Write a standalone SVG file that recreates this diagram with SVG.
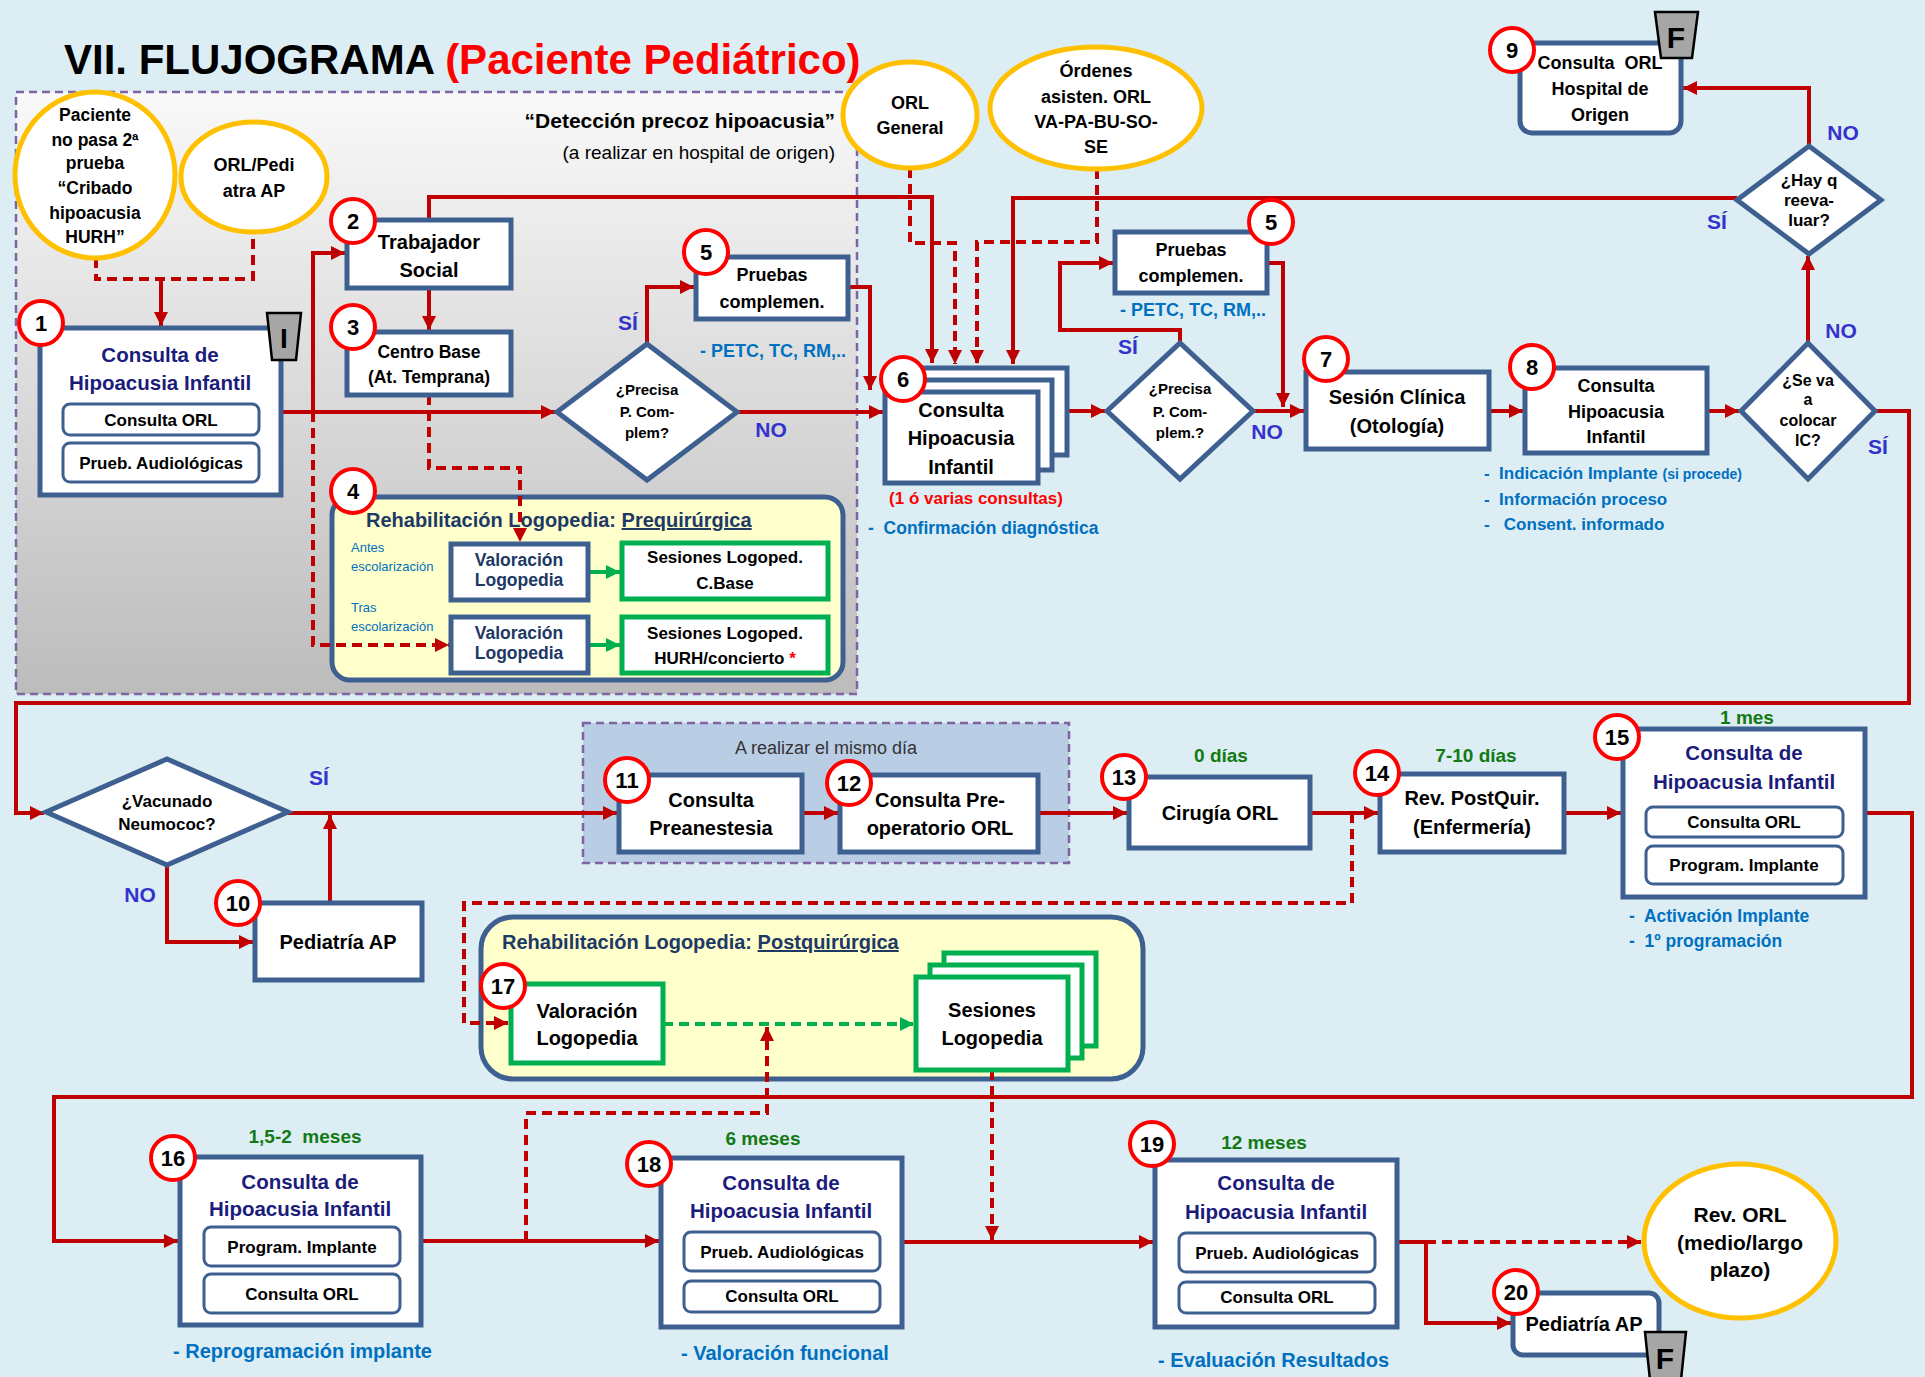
<svg xmlns="http://www.w3.org/2000/svg" width="1925" height="1377" viewBox="0 0 1925 1377">
<defs>
<linearGradient id="gDet" x1="0" y1="0" x2="0" y2="1"><stop offset="0" stop-color="#f9f9f9"/><stop offset="1" stop-color="#bcbcbc"/></linearGradient>
<marker id="ar" viewBox="0 0 14 14" refX="14" refY="7" markerWidth="14" markerHeight="14" markerUnits="userSpaceOnUse" orient="auto"><path d="M0,0 L14,7 L0,14 z" fill="#c00000"/></marker>
<marker id="ag" viewBox="0 0 14 14" refX="14" refY="7" markerWidth="14" markerHeight="14" markerUnits="userSpaceOnUse" orient="auto"><path d="M0,0 L14,7 L0,14 z" fill="#00b050"/></marker>
<style>
text { font-family: 'Liberation Sans', Arial, sans-serif; }
.b { font-weight: bold; text-anchor: middle; }
.l { font-weight: bold; text-anchor: start; }
.node { fill:#fff; stroke:#3e6090; stroke-width:5; }
.inner { fill:#fff; stroke:#3e6090; stroke-width:3; }
.gbox { fill:#fff; stroke:#00b050; stroke-width:5; }
.ell { fill:#fff; stroke:#ffc000; stroke-width:5; }
.bd { fill:#fff; stroke:#ff0000; stroke-width:4; }
.bn { font-weight:bold; font-size:22px; text-anchor:middle; fill:#000; }
.c { fill:none; stroke:#c00000; stroke-width:4; marker-end:url(#ar); }
.c0 { fill:none; stroke:#c00000; stroke-width:4; }
.cg { fill:none; stroke:#00b050; stroke-width:4; marker-end:url(#ag); }
.d { stroke-dasharray:10 6; }
.nv { fill:#1c1c7a; }
.dn { fill:#203864; }
.bl { fill:#0070c0; }
.yn { fill:#3333cc; font-size:21px; font-weight:bold; text-anchor:middle; }
.gr { fill:#137a13; font-size:19px; font-weight:bold; text-anchor:middle; }
.tab { fill:#a6a6a6; stroke:#000; stroke-width:2.5; }
.reg { fill:none; stroke:#8064a2; stroke-width:2.5; stroke-dasharray:8 5; }
</style>
</defs>

<rect x="0" y="0" width="1925" height="1377" fill="#dcedf4"/>

<text x="64" y="74" font-size="42" font-weight="bold" fill="#000">VII. FLUJOGRAMA <tspan fill="#ff0000">(Paciente Pediátrico)</tspan></text>

<!-- regions -->
<g id="region-deteccion">
<rect x="16" y="92" width="841" height="602" fill="url(#gDet)"/>
<rect class="reg" x="16" y="92" width="841" height="602"/>
<text x="835" y="128" font-size="21" font-weight="bold" text-anchor="end">“Detección precoz hipoacusia”</text>
<text x="835" y="159" font-size="19" text-anchor="end">(a realizar en hospital de origen)</text>
</g>
<g id="region-mismo-dia">
<rect x="583" y="723" width="486" height="140" fill="#b9cde5"/>
<rect class="reg" x="583" y="723" width="486" height="140"/>
<text x="826" y="754" font-size="18" text-anchor="middle" fill="#333">A realizar el mismo día</text>
</g>
<g id="n4">
<rect x="332" y="497" width="511" height="183" rx="18" fill="#ffffcc" stroke="#3e6090" stroke-width="5"/>
<text class="l dn" x="366" y="527" font-size="20">Rehabilitación Logopedia: <tspan text-decoration="underline">Prequirúrgica</tspan></text>
<text x="351" y="552" font-size="13" class="bl">Antes</text>
<text x="351" y="571" font-size="13" class="bl">escolarización</text>
<text x="351" y="612" font-size="13" class="bl">Tras</text>
<text x="351" y="631" font-size="13" class="bl">escolarización</text>
</g>
<g id="n17-container">
<rect x="481" y="917" width="662" height="162" rx="32" fill="#ffffcc" stroke="#3e6090" stroke-width="5"/>
<text class="l dn" x="502" y="949" font-size="20">Rehabilitación Logopedia: <tspan text-decoration="underline">Postquirúrgica</tspan></text>
</g>

<!-- connectors -->
<g id="connectors">
<path class="c0 d" d="M96,258 V279 H253 V232"/>
<path class="c" d="M161,279 V326"/>
<path class="c" d="M281,412 H555"/>
<path class="c" d="M313,412 V253 H345"/>
<path class="c d" d="M313,412 V645 H449"/>
<path class="c" d="M429,288 V330"/>
<path class="c" d="M429,220 V197 H932 V363"/>
<path class="c d" d="M429,395 V468 H520 V542"/>
<path class="c" d="M647,344 V287 H694"/>
<path class="c" d="M848,287 H870 V390"/>
<path class="c" d="M737,412 H883"/>
<path class="c d" d="M910,168 V243 H955 V364"/>
<path class="c d" d="M1097,169 V242 H977 V364"/>
<path class="c" d="M1737,198 H1013 V364"/>
<path class="c" d="M1067,411 H1105"/>
<path class="c" d="M1180,343 V330 H1060 V263 H1113"/>
<path class="c" d="M1267,263 H1283 V407"/>
<path class="c" d="M1253,411 H1304"/>
<path class="c" d="M1489,411 H1523"/>
<path class="c" d="M1707,411 H1739"/>
<path class="c" d="M1808,343 V256"/>
<path class="c" d="M1809,146 V88 H1683"/>
<path class="c" d="M1875,411 H1909 V703 H16 V813 H44"/>
<path class="c" d="M288,813 H617"/>
<path class="c" d="M167,865 V942 H253"/>
<path class="c" d="M330,903 V815"/>
<path class="c" d="M802,813 H838"/>
<path class="c" d="M1038,813 H1127"/>
<path class="c" d="M1310,813 H1378"/>
<path class="c d" d="M1352,813 V903 H464 V1023 H508"/>
<path class="c" d="M1564,813 H1621"/>
<path class="c" d="M1865,813 H1912 V1097 H54 V1241 H178"/>
<path class="c" d="M421,1241 H659"/>
<path class="c d" d="M526,1241 V1113 H767 V1027"/>
<path class="cg d" d="M663,1024 H914"/>
<path class="c d" d="M992,1070 V1240"/>
<path class="c" d="M902,1242 H1153"/>
<path class="c d" d="M1426,1242 H1641"/>
<path class="c" d="M1397,1242 H1426 V1323 H1511"/>
<path class="cg" d="M588,572 H620"/>
<path class="cg" d="M588,645 H620"/>
</g>

<!-- start ellipses -->
<g id="e-cribado">
<ellipse class="ell" cx="95" cy="175" rx="80" ry="83"/>
<text class="b" font-size="17.5" x="95" y="121">Paciente</text>
<text class="b" font-size="17.5" x="95" y="146">no pasa 2ª</text>
<text class="b" font-size="17.5" x="95" y="169">prueba</text>
<text class="b" font-size="17.5" x="95" y="194">“Cribado</text>
<text class="b" font-size="17.5" x="95" y="219">hipoacusia</text>
<text class="b" font-size="17.5" x="95" y="243">HURH”</text>
</g>
<g id="e-orlpedi">
<ellipse class="ell" cx="254" cy="177" rx="73" ry="55"/>
<text class="b" font-size="18" x="254" y="171">ORL/Pedi</text>
<text class="b" font-size="18" x="254" y="197">atra AP</text>
</g>
<g id="e-orlgeneral">
<ellipse class="ell" cx="910" cy="115" rx="67" ry="53"/>
<text class="b" font-size="18" x="910" y="109">ORL</text>
<text class="b" font-size="18" x="910" y="134">General</text>
</g>
<g id="e-ordenes">
<ellipse class="ell" cx="1096" cy="108" rx="106" ry="61"/>
<text class="b" font-size="18" x="1096" y="77">Órdenes</text>
<text class="b" font-size="18" x="1096" y="103">asisten. ORL</text>
<text class="b" font-size="18" x="1096" y="128">VA-PA-BU-SO-</text>
<text class="b" font-size="18" x="1096" y="153">SE</text>
</g>
<g id="e-revorl">
<ellipse class="ell" cx="1740" cy="1241" rx="96" ry="77"/>
<text class="b" font-size="21" x="1740" y="1222">Rev. ORL</text>
<text class="b" font-size="21" x="1740" y="1250">(medio/largo</text>
<text class="b" font-size="21" x="1740" y="1277">plazo)</text>
</g>

<!-- nodes -->
<g id="n1">
<rect class="node" x="40" y="328" width="241" height="167"/>
<text class="b nv" font-size="20.5" x="160" y="362">Consulta de</text>
<text class="b nv" font-size="20.5" x="160" y="390">Hipoacusia Infantil</text>
<rect class="inner" x="63" y="404" width="196" height="31" rx="7"/>
<text class="b" font-size="17" x="161" y="426">Consulta ORL</text>
<rect class="inner" x="63" y="443" width="196" height="39" rx="7"/>
<text class="b" font-size="17" x="161" y="469">Prueb. Audiológicas</text>
<polygon class="tab" points="267,313 301,313 296,360 272,360"/>
<text class="b" font-size="28" x="284" y="348">I</text>
<circle class="bd" cx="41" cy="323" r="22"/><text class="bn" x="41" y="331">1</text>
</g>
<g id="n2">
<rect class="node" x="347" y="220" width="164" height="68"/>
<text class="b" font-size="20" x="429" y="249">Trabajador</text>
<text class="b" font-size="20" x="429" y="277">Social</text>
<circle class="bd" cx="353" cy="221" r="22"/><text class="bn" x="353" y="229">2</text>
</g>
<g id="n3">
<rect class="node" x="347" y="332" width="164" height="63"/>
<text class="b" font-size="17.5" x="429" y="358">Centro Base</text>
<text class="b" font-size="17.5" x="429" y="383">(At. Temprana)</text>
<circle class="bd" cx="353" cy="327" r="22"/><text class="bn" x="353" y="335">3</text>
</g>
<g id="n4-items">
<circle class="bd" cx="353" cy="491" r="22"/><text class="bn" x="353" y="499">4</text>
<rect class="node" x="451" y="544" width="137" height="56"/>
<text class="b dn" font-size="17.5" x="519" y="566">Valoración</text>
<text class="b dn" font-size="17.5" x="519" y="586">Logopedia</text>
<rect class="node" x="451" y="617" width="137" height="56"/>
<text class="b dn" font-size="17.5" x="519" y="639">Valoración</text>
<text class="b dn" font-size="17.5" x="519" y="659">Logopedia</text>
<rect class="gbox" x="622" y="543" width="206" height="56"/>
<text class="b" font-size="17" x="725" y="563">Sesiones Logoped.</text>
<text class="b" font-size="17" x="725" y="589">C.Base</text>
<rect class="gbox" x="622" y="617" width="206" height="56"/>
<text class="b" font-size="17" x="725" y="639">Sesiones Logoped.</text>
<text class="b" font-size="17" x="725" y="664">HURH/concierto <tspan fill="#ff0000">*</tspan></text>
</g>
<g id="n5a">
<rect class="node" x="696" y="257" width="152" height="62"/>
<text class="b" font-size="18" x="772" y="281">Pruebas</text>
<text class="b" font-size="18" x="772" y="308">complemen.</text>
<circle class="bd" cx="706" cy="252" r="22"/><text class="bn" x="706" y="260">5</text>
<text class="l bl" font-size="18" x="700" y="357">- PETC, TC, RM,..</text>
</g>
<g id="d1">
<polygon class="node" points="557,412 647,344 737,412 647,480"/>
<text class="b" font-size="15" x="647" y="395">¿Precisa</text>
<text class="b" font-size="15" x="647" y="417">P. Com-</text>
<text class="b" font-size="15" x="647" y="438">plem?</text>
<text class="yn" x="628" y="330">SÍ</text>
<text class="yn" x="771" y="437">NO</text>
</g>
<g id="n6">
<rect class="node" x="915" y="368" width="152" height="87"/>
<rect class="node" x="900" y="380" width="152" height="90"/>
<rect class="node" x="885" y="392" width="153" height="91"/>
<text class="b" font-size="20" x="961" y="417">Consulta</text>
<text class="b" font-size="20" x="961" y="445">Hipoacusia</text>
<text class="b" font-size="20" x="961" y="474">Infantil</text>
<circle class="bd" cx="903" cy="379" r="22"/><text class="bn" x="903" y="387">6</text>
<text class="b" font-size="17" x="976" y="504" fill="#ff0000">(1 ó varias consultas)</text>
<text class="l bl" font-size="17.5" x="868" y="534">-&#160; Confirmación diagnóstica</text>
</g>
<g id="d2">
<polygon class="node" points="1107,411 1180,343 1253,411 1180,479"/>
<text class="b" font-size="15" x="1180" y="394">¿Precisa</text>
<text class="b" font-size="15" x="1180" y="417">P. Com-</text>
<text class="b" font-size="15" x="1180" y="438">plem.?</text>
<text class="yn" x="1128" y="354">SÍ</text>
<text class="yn" x="1267" y="439">NO</text>
</g>
<g id="n5b">
<rect class="node" x="1115" y="232" width="152" height="61"/>
<text class="b" font-size="18" x="1191" y="256">Pruebas</text>
<text class="b" font-size="18" x="1191" y="282">complemen.</text>
<circle class="bd" cx="1271" cy="222" r="22"/><text class="bn" x="1271" y="230">5</text>
<text class="l bl" font-size="18" x="1120" y="316">- PETC, TC, RM,..</text>
</g>
<g id="n7">
<rect class="node" x="1306" y="372" width="183" height="77"/>
<text class="b" font-size="20" x="1397" y="404">Sesión Clínica</text>
<text class="b" font-size="20" x="1397" y="433">(Otología)</text>
<circle class="bd" cx="1326" cy="359" r="22"/><text class="bn" x="1326" y="367">7</text>
</g>
<g id="n8">
<rect class="node" x="1525" y="368" width="182" height="85"/>
<text class="b" font-size="18" x="1616" y="392">Consulta</text>
<text class="b" font-size="18" x="1616" y="418">Hipoacusia</text>
<text class="b" font-size="18" x="1616" y="443">Infantil</text>
<circle class="bd" cx="1532" cy="367" r="22"/><text class="bn" x="1532" y="375">8</text>
<text class="l bl" font-size="17" x="1484" y="479">-&#160; Indicación Implante <tspan font-size="14">(si procede)</tspan></text>
<text class="l bl" font-size="17" x="1484" y="505">-&#160; Información proceso</text>
<text class="l bl" font-size="17" x="1484" y="530">-&#160;&#160; Consent. informado</text>
</g>
<g id="d3">
<polygon class="node" points="1741,411 1808,343 1875,411 1808,479"/>
<text class="b" font-size="16" x="1808" y="386">¿Se va</text>
<text class="b" font-size="16" x="1808" y="405">a</text>
<text class="b" font-size="16" x="1808" y="426">colocar</text>
<text class="b" font-size="16" x="1808" y="446">IC?</text>
<text class="yn" x="1841" y="338">NO</text>
<text class="yn" x="1878" y="454">SÍ</text>
</g>
<g id="d4">
<polygon class="node" points="1737,200 1809,146 1881,200 1809,254"/>
<text class="b" font-size="17" x="1809" y="186">¿Hay q</text>
<text class="b" font-size="17" x="1809" y="206">reeva-</text>
<text class="b" font-size="17" x="1809" y="226">luar?</text>
<text class="yn" x="1843" y="140">NO</text>
<text class="yn" x="1717" y="229">SÍ</text>
</g>
<g id="n9">
<rect class="node" x="1520" y="43" width="161" height="90" rx="12"/>
<text class="b" font-size="18" x="1600" y="69">Consulta&#160; ORL</text>
<text class="b" font-size="18" x="1600" y="95">Hospital de</text>
<text class="b" font-size="18" x="1600" y="121">Origen</text>
<polygon class="tab" points="1655,12 1698,12 1692,58 1661,58"/>
<text class="b" font-size="30" x="1676" y="48">F</text>
<circle class="bd" cx="1512" cy="50" r="22"/><text class="bn" x="1512" y="58">9</text>
</g>
<g id="d-vacunado">
<polygon class="node" points="46,812 167,759 288,812 167,865"/>
<text class="b" font-size="17" x="167" y="807">¿Vacunado</text>
<text class="b" font-size="17" x="167" y="830">Neumococ?</text>
<text class="yn" x="319" y="785">SÍ</text>
<text class="yn" x="140" y="902">NO</text>
</g>
<g id="n10">
<rect class="node" x="255" y="903" width="167" height="77"/>
<text class="b" font-size="20" x="338" y="949">Pediatría AP</text>
<circle class="bd" cx="238" cy="903" r="22"/><text class="bn" x="238" y="911">10</text>
</g>
<g id="n11">
<rect class="node" x="619" y="775" width="183" height="77"/>
<text class="b" font-size="20" x="711" y="807">Consulta</text>
<text class="b" font-size="20" x="711" y="835">Preanestesia</text>
<circle class="bd" cx="627" cy="780" r="22"/><text class="bn" x="627" y="788">11</text>
</g>
<g id="n12">
<rect class="node" x="840" y="775" width="198" height="77"/>
<text class="b" font-size="20" x="940" y="807">Consulta Pre-</text>
<text class="b" font-size="20" x="940" y="835">operatorio ORL</text>
<circle class="bd" cx="849" cy="783" r="22"/><text class="bn" x="849" y="791">12</text>
</g>
<g id="n13">
<rect class="node" x="1129" y="777" width="181" height="71"/>
<text class="b" font-size="20" x="1220" y="820">Cirugía ORL</text>
<circle class="bd" cx="1124" cy="777" r="22"/><text class="bn" x="1124" y="785">13</text>
<text class="gr" x="1221" y="762">0 días</text>
</g>
<g id="n14">
<rect class="node" x="1380" y="774" width="184" height="78"/>
<text class="b" font-size="20" x="1472" y="805">Rev. PostQuir.</text>
<text class="b" font-size="20" x="1472" y="834">(Enfermería)</text>
<circle class="bd" cx="1377" cy="773" r="22"/><text class="bn" x="1377" y="781">14</text>
<text class="gr" x="1476" y="762">7-10 días</text>
</g>
<g id="n15">
<rect class="node" x="1623" y="729" width="242" height="168"/>
<text class="b nv" font-size="20.5" x="1744" y="760">Consulta de</text>
<text class="b nv" font-size="20.5" x="1744" y="789">Hipoacusia Infantil</text>
<rect class="inner" x="1646" y="807" width="197" height="30" rx="7"/>
<text class="b" font-size="17" x="1744" y="828">Consulta ORL</text>
<rect class="inner" x="1646" y="846" width="197" height="38" rx="7"/>
<text class="b" font-size="17" x="1744" y="871">Program. Implante</text>
<circle class="bd" cx="1617" cy="737" r="22"/><text class="bn" x="1617" y="745">15</text>
<text class="gr" x="1747" y="724">1 mes</text>
<text class="l bl" font-size="17.5" x="1629" y="922">-&#160; Activación Implante</text>
<text class="l bl" font-size="17.5" x="1629" y="947">-&#160; 1º programación</text>
</g>
<g id="n17">
<rect class="gbox" x="511" y="984" width="152" height="79"/>
<text class="b" font-size="20" x="587" y="1018">Valoración</text>
<text class="b" font-size="20" x="587" y="1045">Logopedia</text>
<circle class="bd" cx="503" cy="986" r="22"/><text class="bn" x="503" y="994">17</text>
</g>
<g id="n-sesiones">
<rect class="gbox" x="944" y="953" width="152" height="93"/>
<rect class="gbox" x="930" y="965" width="152" height="93"/>
<rect class="gbox" x="916" y="977" width="152" height="93"/>
<text class="b" font-size="20" x="992" y="1017">Sesiones</text>
<text class="b" font-size="20" x="992" y="1045">Logopedia</text>
</g>
<g id="n16">
<rect class="node" x="180" y="1157" width="241" height="168"/>
<text class="b nv" font-size="20.5" x="300" y="1189">Consulta de</text>
<text class="b nv" font-size="20.5" x="300" y="1216">Hipoacusia Infantil</text>
<rect class="inner" x="204" y="1227" width="196" height="39" rx="7"/>
<text class="b" font-size="17" x="302" y="1253">Program. Implante</text>
<rect class="inner" x="204" y="1274" width="196" height="39" rx="7"/>
<text class="b" font-size="17" x="302" y="1300">Consulta ORL</text>
<circle class="bd" cx="173" cy="1158" r="22"/><text class="bn" x="173" y="1166">16</text>
<text class="gr" x="305" y="1143">1,5-2&#160; meses</text>
<text class="l bl" font-size="20" x="173" y="1358">- Reprogramación implante</text>
</g>
<g id="n18">
<rect class="node" x="661" y="1158" width="241" height="169"/>
<text class="b nv" font-size="20.5" x="781" y="1190">Consulta de</text>
<text class="b nv" font-size="20.5" x="781" y="1218">Hipoacusia Infantil</text>
<rect class="inner" x="684" y="1232" width="196" height="39" rx="7"/>
<text class="b" font-size="17" x="782" y="1258">Prueb. Audiológicas</text>
<rect class="inner" x="684" y="1281" width="196" height="31" rx="7"/>
<text class="b" font-size="17" x="782" y="1302">Consulta ORL</text>
<circle class="bd" cx="649" cy="1164" r="22"/><text class="bn" x="649" y="1172">18</text>
<text class="gr" x="763" y="1145">6 meses</text>
<text class="l bl" font-size="20" x="681" y="1360">- Valoración funcional</text>
</g>
<g id="n19">
<rect class="node" x="1155" y="1160" width="242" height="167"/>
<text class="b nv" font-size="20.5" x="1276" y="1190">Consulta de</text>
<text class="b nv" font-size="20.5" x="1276" y="1219">Hipoacusia Infantil</text>
<rect class="inner" x="1179" y="1233" width="196" height="39" rx="7"/>
<text class="b" font-size="17" x="1277" y="1259">Prueb. Audiológicas</text>
<rect class="inner" x="1179" y="1282" width="196" height="31" rx="7"/>
<text class="b" font-size="17" x="1277" y="1303">Consulta ORL</text>
<circle class="bd" cx="1152" cy="1144" r="22"/><text class="bn" x="1152" y="1152">19</text>
<text class="gr" x="1264" y="1149">12 meses</text>
<text class="l bl" font-size="20" x="1158" y="1367">- Evaluación Resultados</text>
</g>
<g id="n20">
<rect class="node" x="1513" y="1293" width="146" height="62" rx="10"/>
<text class="b" font-size="20" x="1584" y="1331">Pediatría AP</text>
<polygon class="tab" points="1645,1332 1686,1332 1681,1380 1650,1380"/>
<text class="b" font-size="30" x="1665" y="1369">F</text>
<circle class="bd" cx="1516" cy="1292" r="22"/><text class="bn" x="1516" y="1300">20</text>
</g>
</svg>
